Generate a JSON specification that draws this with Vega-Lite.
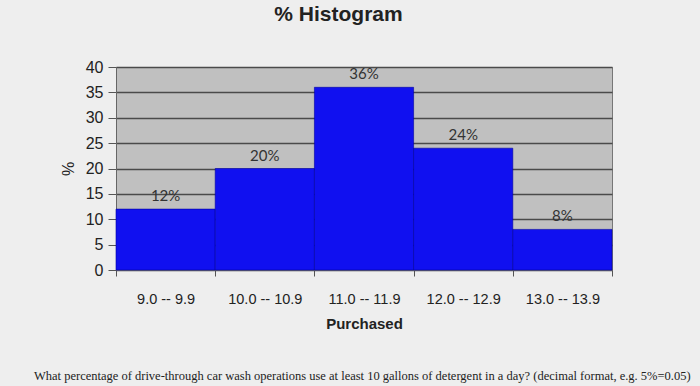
{
  "$schema": "https://vega.github.io/schema/vega-lite/v6.json",
  "autosize": {"type": "none"},
  "width": 496,
  "height": 203,
  "padding": {"left": 116, "top": 67, "right": 88, "bottom": 116},
  "background": "#eeeeee",
  "title": {
    "text": "What percentage of drive-through car wash operations use at least 10 gallons of detergent in a day? (decimal format, e.g. 5%=0.05)",
    "orient": "bottom",
    "anchor": "start",
    "frame": "group",
    "dx": -82,
    "offset": 38,
    "font": "Liberation Serif",
    "fontSize": 12.5,
    "fontWeight": "normal",
    "color": "#222222"
  },
  "data": {
    "values": [
      {"bin": "9.0 -- 9.9", "lo": 9, "hi": 10, "mid": 9.5, "pct": 12, "label": "12%"},
      {"bin": "10.0 -- 10.9", "lo": 10, "hi": 11, "mid": 10.5, "pct": 20, "label": "20%"},
      {"bin": "11.0 -- 11.9", "lo": 11, "hi": 12, "mid": 11.5, "pct": 36, "label": "36%"},
      {"bin": "12.0 -- 12.9", "lo": 12, "hi": 13, "mid": 12.5, "pct": 24, "label": "24%"},
      {"bin": "13.0 -- 13.9", "lo": 13, "hi": 14, "mid": 13.5, "pct": 8, "label": "8%"}
    ]
  },
  "config": {
    "view": {"fill": "#c0c0c0", "stroke": "#777777", "strokeWidth": 1},
    "axis": {"labelFont": "Liberation Sans", "titleFont": "Liberation Sans", "labelColor": "#222222", "titleColor": "#222222"}
  },
  "encoding": {
    "y": {
      "field": "pct", "type": "quantitative",
      "scale": {"domain": [0, 40], "nice": false},
      "axis": {
        "values": [0, 5, 10, 15, 20, 25, 30, 35, 40],
        "grid": true,
        "gridColor": "#4a4a4a",
        "gridWidth": 1.3,
        "tickSize": 8,
        "tickColor": "#555555",
        "domainColor": "#666666",
        "labelFontSize": 16,
        "labelPadding": 5,
        "title": "%",
        "titleFontSize": 16,
        "titleFontWeight": "normal",
        "titlePadding": 9
      }
    }
  },
  "layer": [
    {
      "mark": {"type": "bar", "color": "#1010f0", "stroke": "#0000a0", "strokeWidth": 0.6},
      "encoding": {
        "x": {
          "field": "lo", "type": "quantitative",
          "scale": {"domain": [9, 14], "nice": false, "zero": false},
          "axis": {
            "orient": "bottom",
            "values": [9, 9.5, 10, 10.5, 11, 11.5, 12, 12.5, 13, 13.5, 14],
            "labelExpr": "datum.value % 1 == 0 ? '' : format(floor(datum.value), '.1f') + ' -- ' + format(floor(datum.value) + 0.9, '.1f')",
            "labelOverlap": false,
            "labelBound": false,
            "labelFlush": false,
            "labelFontSize": 14.5,
            "labelPadding": 16,
            "tickSize": 6,
            "tickColor": "#555555",
            "tickOpacity": {"condition": {"test": "datum.value % 1 != 0", "value": 0}, "value": 1},
            "domainColor": "#666666",
            "grid": false,
            "title": "Purchased",
            "titleFontSize": 15,
            "titleFontWeight": "bold",
            "titlePadding": 11
          }
        },
        "x2": {"field": "hi"},
        "y2": {"datum": 0}
      }
    },
    {
      "mark": {"type": "text", "baseline": "bottom", "dy": -5, "font": "Lato", "fontSize": 15, "color": "#333333"},
      "encoding": {
        "x": {
          "field": "mid", "type": "quantitative",
          "axis": {
            "orient": "top",
            "labels": false,
            "ticks": false,
            "domain": false,
            "grid": false,
            "title": "% Histogram",
            "titleFontSize": 21,
            "titleFontWeight": 600,
            "titlePadding": 43,
            "titleX": 222
          }
        },
        "text": {"field": "label"}
      }
    }
  ],
  "resolve": {"axis": {"x": "independent"}}
}
